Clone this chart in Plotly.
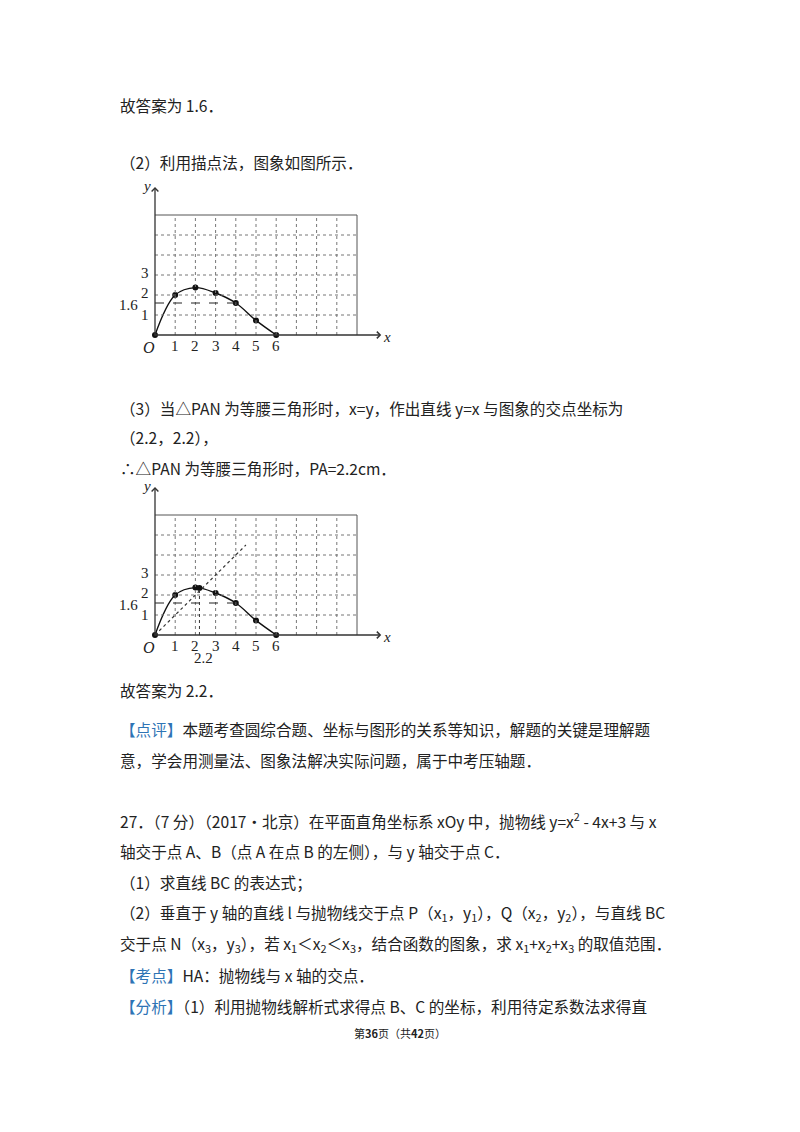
import plotly.graph_objects as go

xs = [0, 1, 2, 3, 4, 5, 6]
ys = [0, 2, 2.37, 2.1, 1.6, 0.73, 0]
x_ticks = [1, 2, 3, 4, 5, 6]
y_ticks = [1, 2, 3]
grid_x = list(range(0, 11))
grid_y = list(range(0, 7))
ans_y = 1.6
ix_pt = (2.2, 2.35)
line_yx_end = 4.5

W, H = 800, 1132
OFF = 8  # page body margin
SC = 20.2
SY = 20.0

fig = go.Figure()

def setup(idx, ox, oy):
    ox -= OFF
    oy -= OFF
    xr = [-0.5, 11.6]
    yr = [-1.3, 7.6]
    xd = [(ox + xr[0]*SC)/W, (ox + xr[1]*SC)/W]
    yd = [1 - (oy - yr[0]*SY)/H, 1 - (oy - yr[1]*SY)/H]
    xa = 'xaxis' if idx == 1 else 'xaxis2'
    ya = 'yaxis' if idx == 1 else 'yaxis2'
    fig.update_layout(**{
        xa: dict(domain=xd, range=xr, visible=False, fixedrange=True),
        ya: dict(domain=yd, range=yr, visible=False, fixedrange=True),
    })
    xref = 'x' if idx == 1 else 'x2'
    yref = 'y' if idx == 1 else 'y2'
    shapes = []
    for gx in grid_x[1:-1]:
        shapes.append(dict(type='line', xref=xref, yref=yref, x0=gx, x1=gx, y0=0, y1=grid_y[-1],
                           line=dict(color='#777', width=1, dash='dot')))
    for gy in grid_y[1:-1]:
        shapes.append(dict(type='line', xref=xref, yref=yref, x0=0, x1=grid_x[-1], y0=gy, y1=gy,
                           line=dict(color='#777', width=1, dash='dot')))
    shapes.append(dict(type='line', xref=xref, yref=yref, x0=0, x1=grid_x[-1], y0=grid_y[-1], y1=grid_y[-1],
                       line=dict(color='#555', width=1)))
    shapes.append(dict(type='line', xref=xref, yref=yref, x0=grid_x[-1], x1=grid_x[-1], y0=0, y1=grid_y[-1],
                       line=dict(color='#555', width=1)))
    shapes.append(dict(type='line', xref=xref, yref=yref, x0=0, x1=xs[4], y0=ans_y, y1=ans_y,
                       line=dict(color='#222', width=1, dash='dash')))
    if idx == 2:
        shapes.append(dict(type='line', xref=xref, yref=yref, x0=0, x1=line_yx_end, y0=0, y1=line_yx_end,
                           line=dict(color='#333', width=1.2, dash='dot')))
        shapes.append(dict(type='line', xref=xref, yref=yref, x0=ix_pt[0], x1=ix_pt[0], y0=0, y1=ix_pt[1],
                           line=dict(color='#333', width=1, dash='dot')))
    for s in shapes:
        fig.add_shape(**s)
    serif = dict(family='Liberation Serif', size=15, color='#222')
    anns = []
    anns.append(dict(x=11.2, y=0, ax=-0.1, ay=0, axref=xref, ayref=yref, showarrow=True,
                     arrowhead=4, arrowwidth=1.3, arrowcolor='#333', text=''))
    anns.append(dict(x=0, y=7.4, ax=0, ay=-0.1, axref=xref, ayref=yref, showarrow=True,
                     arrowhead=4, arrowwidth=1.3, arrowcolor='#333', text=''))
    for t in x_ticks:
        anns.append(dict(x=t, y=-0.55, text=str(t), showarrow=False, font=serif))
    for t in y_ticks:
        anns.append(dict(x=-0.2, y=t + 0.1 if t > 1 else t, text=str(t), showarrow=False, font=serif, xanchor='right'))
    anns.append(dict(x=-0.3, y=-0.6, text='<i>O</i>', showarrow=False, font=dict(family='Liberation Serif', size=16, color='#222')))
    anns.append(dict(x=11.5, y=-0.1, text='<i>x</i>', showarrow=False, font=serif))
    anns.append(dict(x=-0.4, y=7.45, text='<i>y</i>', showarrow=False, font=serif))
    if idx == 2:
        anns.append(dict(x=ix_pt[0] + 0.2, y=-1.15, text=str(ix_pt[0]), showarrow=False, font=serif))
    for a in anns:
        a.update(xref=xref, yref=yref)
        fig.add_annotation(**a)
    fig.add_annotation(xref='paper', yref='paper', x=(ox - 0.75 * SC) / W,
                       y=1 - (oy - (ans_y - 0.1) * SY) / H, text=str(ans_y), showarrow=False,
                       xanchor='right', yanchor='middle', font=serif)
    fig.add_trace(go.Scatter(x=xs, y=ys, mode='lines', line=dict(color='#111', width=1.4, shape='spline', smoothing=1.0),
                             xaxis=xref, yaxis=yref, hoverinfo='skip'))
    px = xs[:]
    py = ys[:]
    if idx == 2:
        px = px + [ix_pt[0]]
        py = py + [ix_pt[1]]
    fig.add_trace(go.Scatter(x=px, y=py, mode='markers', marker=dict(color='#111', size=6),
                             xaxis=xref, yaxis=yref, hoverinfo='skip'))

setup(1, 155, 335)
setup(2, 155, 635)

blue = '#2E74B5'
B = lambda s: f"<span style='color:{blue}'>{s}</span>"
lines = [
    (105, "故答案为 1.6．"),
    (162, "（2）利用描点法，图象如图所示．"),
    (408, "（3）当△PAN 为等腰三角形时，x=y，作出直线 y=x 与图象的交点坐标为"),
    (437, "（2.2，2.2），"),
    (468, "∴△PAN 为等腰三角形时，PA=2.2cm．"),
    (690, "故答案为 2.2．"),
    (729, B("【点评】") + "本题考查圆综合题、坐标与图形的关系等知识，解题的关键是理解题"),
    (760, "意，学会用测量法、图象法解决实际问题，属于中考压轴题．"),
    (820, "27．（7 分）（2017•北京）在平面直角坐标系 xOy 中，抛物线 y=x<sup>2</sup> - 4x+3 与 x"),
    (851, "轴交于点 A、B（点 A 在点 B 的左侧），与 y 轴交于点 C．"),
    (882, "（1）求直线 BC 的表达式；"),
    (913, "（2）垂直于 y 轴的直线 l 与抛物线交于点 P（x<sub>1</sub>，y<sub>1</sub>），Q（x<sub>2</sub>，y<sub>2</sub>），与直线 BC"),
    (944, "交于点 N（x<sub>3</sub>，y<sub>3</sub>），若 x<sub>1</sub>＜x<sub>2</sub>＜x<sub>3</sub>，结合函数的图象，求 x<sub>1</sub>+x<sub>2</sub>+x<sub>3</sub> 的取值范围．"),
    (975, B("【考点】") + "HA：抛物线与 x 轴的交点．"),
    (1006, B("【分析】") + "（1）利用抛物线解析式求得点 B、C 的坐标，利用待定系数法求得直"),
]
for yy, t in lines:
    fig.add_annotation(xref='paper', yref='paper', x=(118 - OFF) / W, y=1 - (yy - OFF) / H, text=t, showarrow=False,
                       xanchor='left', yanchor='middle',
                       font=dict(family='Noto Sans CJK SC', size=15.6, color='#222'))
fig.add_annotation(xref='paper', yref='paper', x=(400 - OFF) / W, y=1 - (1043 - OFF) / H,
                   text="第<b>36</b>页（共<b>42</b>页）", showarrow=False,
                   font=dict(family='Noto Sans CJK SC', size=11, color='#222'))

fig.update_layout(width=W, height=H, margin=dict(l=0, r=0, t=0, b=0), showlegend=False,
                  plot_bgcolor='white', paper_bgcolor='white')
fig.write_html("out.html")
